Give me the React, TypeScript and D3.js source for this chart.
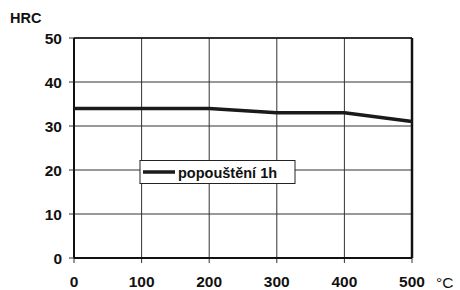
import { useMemo } from 'react';
import * as d3 from 'd3';

const temps = [0, 100, 200, 300, 400, 500];
const hardness = [34, 34, 34, 33, 33, 31];
const xTicks = [0, 100, 200, 300, 400, 500];
const yTicks = [0, 10, 20, 30, 40, 50];
const seriesName = 'popouštění 1h';
const yTitle = 'HRC';
const xUnit = '°C';

const W = 460;
const H = 290;
const FONT = 'Arial, "Liberation Sans", Helvetica, sans-serif';

export default function App() {
  const x = useMemo(() => d3.scaleLinear().domain([0, 500]).range([74, 412]), []);
  const y = useMemo(() => d3.scaleLinear().domain([0, 50]).range([258, 38]), []);

  const line = d3
    .line<number>()
    .x((_, i) => x(temps[i]))
    .y((d) => y(d));

  return (
    <svg
      width={W}
      height={H}
      style={{ position: 'absolute', left: 0, top: 0, background: '#fff' }}
      fontFamily={FONT}
    >
      {/* grid */}
      {yTicks.map((t) => (
        <line key={'gy' + t} x1={69} x2={x(500)} y1={y(t)} y2={y(t)} stroke="#333" strokeWidth={1} />
      ))}
      {xTicks.map((t) => (
        <line key={'gx' + t} x1={x(t)} x2={x(t)} y1={y(50)} y2={263} stroke="#333" strokeWidth={1} />
      ))}

      {/* frame */}
      <line x1={x(0)} x2={x(500)} y1={y(50)} y2={y(50)} stroke="#111" strokeWidth={1.5} />
      <line x1={x(0)} x2={x(0)} y1={y(50)} y2={y(0)} stroke="#111" strokeWidth={2} />
      <line x1={x(0)} x2={x(500)} y1={y(0)} y2={y(0)} stroke="#111" strokeWidth={2} />
      <line x1={x(500)} x2={x(500)} y1={y(50)} y2={y(0)} stroke="#111" strokeWidth={2.5} />

      {/* series */}
      <path d={line(hardness) || ''} fill="none" stroke="#1a1a1a" strokeWidth={3.5} strokeLinejoin="round" />

      {/* y labels */}
      {yTicks.map((t) => (
        <text key={'ly' + t} x={62} y={y(t) + 5.5} textAnchor="end" fontSize={15.5} fontWeight="bold" fill="#111">
          {t}
        </text>
      ))}
      <text x={10} y={23} fontSize={14.5} fontWeight="bold" fill="#111">
        {yTitle}
      </text>

      {/* x labels */}
      {xTicks.map((t) => (
        <text key={'lx' + t} x={x(t)} y={287} textAnchor="middle" fontSize={15.5} fontWeight="bold" fill="#111">
          {t}
        </text>
      ))}
      <text x={436} y={288} fontSize={15.5} fill="#111">
        {xUnit}
      </text>

      {/* legend */}
      <rect x={140} y={160.5} width={155} height={23} fill="#fff" stroke="#222" strokeWidth={1} />
      <line x1={143} x2={175} y1={172} y2={172} stroke="#1a1a1a" strokeWidth={3.5} />
      <text x={178} y={177.5} fontSize={14.5} fontWeight="bold" fill="#111">
        {seriesName}
      </text>
    </svg>
  );
}
